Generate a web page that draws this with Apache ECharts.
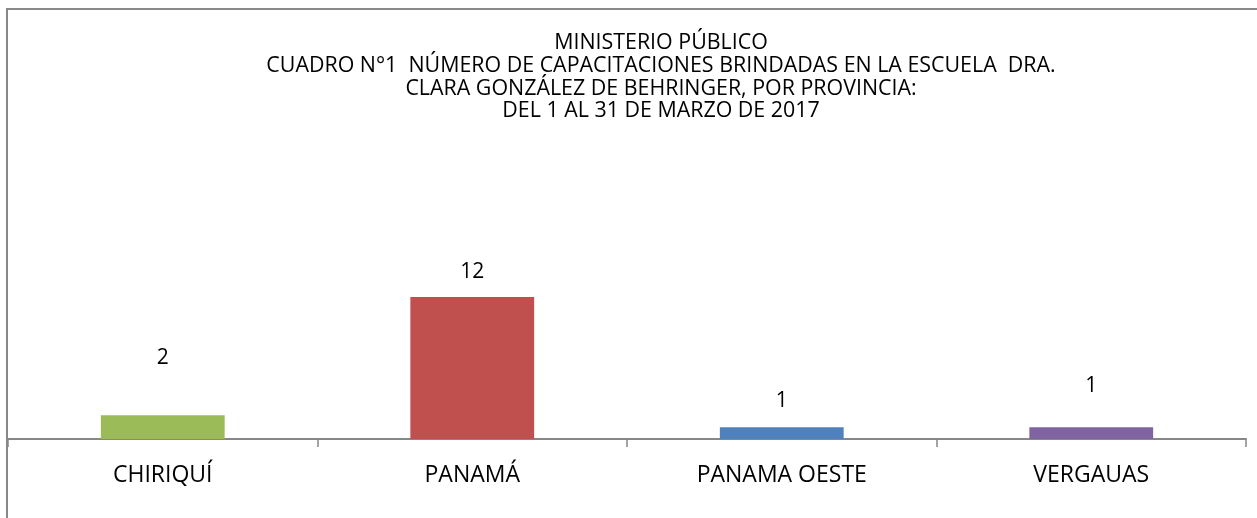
<!DOCTYPE html>
<html>
<head>
<meta charset="utf-8">
<script src="https://cdn.jsdelivr.net/npm/echarts@6/dist/echarts.min.js"></script>
<style>html,body{margin:0;padding:0;background:#fff;}#c{width:1257px;height:518px;}</style>
</head>
<body>
<div id="c"></div>
<script>
const categories = ['CHIRIQUÍ', 'PANAMÁ', 'PANAMA OESTE', 'VERGAUAS'];
const values = [2, 12, 1, 1];
const titleLines = [
  'MINISTERIO PÚBLICO',
  'CUADRO N°1  NÚMERO DE CAPACITACIONES BRINDADAS EN LA ESCUELA  DRA.',
  'CLARA GONZÁLEZ DE BEHRINGER, POR PROVINCIA:',
  'DEL 1 AL 31 DE MARZO DE 2017'
];

const colors = ['#9BBB59', '#C0504D', '#4F81BD', '#8064A2'];
const labelShift = [-42, -10, -11, -26];
const FONT = '"Open Sans", Lato, sans-serif';

const chart = echarts.init(document.getElementById('c'));
chart.setOption({
  animation: false,
  graphic: [
    { type: 'rect', shape: { x: 7, y: 9, width: 1280, height: 540 }, style: { fill: 'none', stroke: '#898989', lineWidth: 2 }, silent: true },
    { type: 'text', x: 661, y: 32, style: { text: titleLines.join('\n'), align: 'center', verticalAlign: 'top', font: '21.4px ' + FONT, lineHeight: 22.6, fill: '#000' } }
  ],
  grid: { left: 8, right: 11, top: 273.4, bottom: 79, containLabel: false },
  xAxis: {
    type: 'category',
    data: categories,
    axisLine: { lineStyle: { color: '#878787', width: 2 } },
    axisTick: { show: true, length: 8, lineStyle: { color: '#878787', width: 1.5 } },
    axisLabel: { color: '#000', fontSize: 23, fontFamily: FONT, margin: 25 }
  },
  yAxis: { type: 'value', min: 0, max: 14, show: false, splitLine: { show: false } },
  series: [{
    type: 'bar',
    barWidth: '40%',
    data: values.map((v, i) => ({
      value: v,
      itemStyle: { color: colors[i] },
      label: { offset: [0, labelShift[i]] }
    })),
    label: { show: true, position: 'top', distance: 5, color: '#000', fontSize: 21, fontFamily: FONT }
  }]
});
</script>
</body>
</html>
